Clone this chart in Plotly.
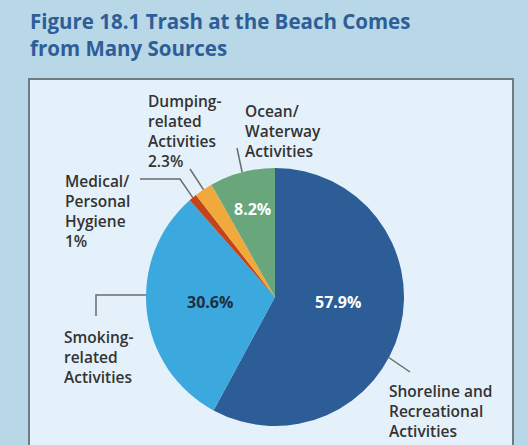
import math
import plotly.graph_objects as go

# ---- data ----
categories = ["Shoreline and Recreational Activities", "Smoking-related Activities",
              "Medical/Personal Hygiene", "Dumping-related Activities",
              "Ocean/Waterway Activities"]
values = [57.9, 30.6, 1.0, 2.3, 8.2]
colors = ["#2c5d96", "#3ba8de", "#c4441a", "#f2a93b", "#6aa67c"]

W, H = 528, 445
def X(px): return px / W
def Y(py): return 1 - py / H

# pie geometry (pixels)
CX, CY, R = 275, 297, 129

fig = go.Figure()
fig.add_trace(go.Pie(
    labels=categories, values=values, sort=False, direction="clockwise",
    rotation=0, marker=dict(colors=colors, line=dict(width=0)),
    textinfo="none", hoverinfo="label+value", showlegend=False,
    domain=dict(x=[X(CX - R), X(CX + R)], y=[Y(CY + R), Y(CY - R)]),
))

BG = "#b8d7e7"
PANEL = "#e4f1fa"
LINE = "#6b6b6b"
TXT = "#333333"
FONT = "Open Sans"

shapes = [dict(type="rect", xref="paper", yref="paper", x0=X(29), x1=X(513),
               y0=Y(448), y1=Y(79), fillcolor=PANEL,
               line=dict(color="#6f7a82", width=2), layer="below")]

def edge_point(frac):
    ang = frac * 2 * math.pi
    return CX + R * math.sin(ang), CY - R * math.cos(ang)

cum = []
s = 0
tot = sum(values)
for v in values:
    cum.append((s + v / 2) / tot)
    s += v

def polyline(pts):
    path = "M " + " L ".join(f"{X(px)},{Y(py)}" for px, py in pts)
    shapes.append(dict(type="path", xref="paper", yref="paper", path=path,
                       line=dict(color=LINE, width=1.5)))

# Medical leader
mx, my = edge_point(cum[2])
polyline([(mx, my), (180, 179), (140, 179)])
# Dumping leader
dx, dy = edge_point(cum[3])
polyline([(dx, dy), (190, 169)])
# Ocean leader
ox, oy = edge_point(cum[4])
polyline([(ox, oy), (237, 148)])
# Smoking leader
polyline([(CX - R, 295), (96, 295), (96, 316)])
# Shoreline leader
polyline([(388, 357), (410, 372)])

annotations = []
def label(text, px, py_top, size=15.5, color=TXT, anchor="left"):
    annotations.append(dict(text=text, x=X(px), y=Y(py_top), xref="paper", yref="paper",
                            xanchor=anchor, yanchor="top", showarrow=False, align="left",
                            font=dict(family=FONT, size=size, color=color, weight=600)))

# title
annotations.append(dict(text="Figure 18.1 Trash at the Beach Comes<br>from Many Sources",
                        x=X(28), y=Y(5), xref="paper", yref="paper", xanchor="left",
                        yanchor="top", showarrow=False, align="left",
                        font=dict(family=FONT, size=20.5, color="#2e5e98", weight=700)))

label("Dumping-<br>related<br>Activities<br>2.3%", 146, 88)
label("Ocean/<br>Waterway<br>Activities", 243, 98)
label("Medical/<br>Personal<br>Hygiene<br>1%", 63, 168)
label("Smoking-<br>related<br>Activities", 62, 324)
label("Shoreline and<br>Recreational<br>Activities", 387, 378)

def inner(text, px, py, color):
    annotations.append(dict(text=text, x=X(px), y=Y(py), xref="paper", yref="paper",
                            xanchor="center", yanchor="middle", showarrow=False,
                            font=dict(family=FONT, size=16, color=color, weight=700)))

inner(f"{values[0]}%", 338, 302, "white")
inner(f"{values[1]}%", 210, 302, "#1e2e3e")
inner(f"{values[4]}%", 252, 209, "white")

fig.update_layout(width=W, height=H, margin=dict(l=0, r=0, t=0, b=0),
                  paper_bgcolor=BG, plot_bgcolor=BG, shapes=shapes,
                  annotations=annotations, showlegend=False)

fig.write_html("out.html", config={"displayModeBar": False},
               post_script="document.body.style.margin='0px';")
